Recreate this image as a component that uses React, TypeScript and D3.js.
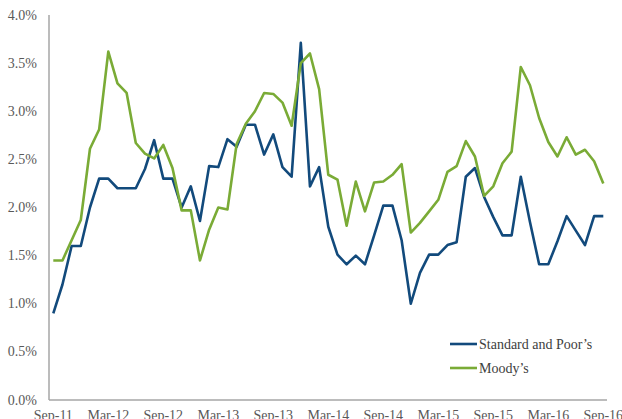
import React, { useEffect, useRef } from "react";
import * as d3 from "d3";

const W = 622;
const H = 419;

const yTicks = [0, 0.5, 1.0, 1.5, 2.0, 2.5, 3.0, 3.5, 4.0];
const xTickLabels = ["Sep-11", "Mar-12", "Sep-12", "Mar-13", "Sep-13", "Mar-14", "Sep-14", "Mar-15", "Sep-15", "Mar-16", "Sep-16"];

// Monthly, Sep-2011 .. Sep-2016 (61 months), default rate in %
const standardAndPoors = [
  0.9, 1.2, 1.6, 1.6, 2.0, 2.3, 2.3, 2.2, 2.2, 2.2, 2.4, 2.7, 2.3, 2.3, 2.0,
  2.22, 1.86, 2.43, 2.42, 2.71, 2.63, 2.86, 2.86, 2.55, 2.76, 2.42, 2.32, 3.71, 2.22, 2.42,
  1.8, 1.51, 1.41, 1.5, 1.41, 1.71, 2.02, 2.02, 1.66, 1.0, 1.32, 1.51, 1.51, 1.61, 1.64,
  2.32, 2.41, 2.11, 1.9, 1.71, 1.71, 2.32, 1.85, 1.41, 1.41, 1.65, 1.91, 1.76, 1.61, 1.91, 1.91,
];
const moodys = [
  1.45, 1.45, 1.66, 1.87, 2.61, 2.81, 3.62, 3.29, 3.19, 2.67, 2.56, 2.51, 2.65, 2.41, 1.97,
  1.97, 1.45, 1.77, 2.0, 1.98, 2.66, 2.87, 3.0, 3.19, 3.18, 3.09, 2.85, 3.5, 3.6, 3.23,
  2.34, 2.29, 1.81, 2.27, 1.96, 2.26, 2.27, 2.34, 2.45, 1.74, 1.84, 1.96, 2.08, 2.37, 2.43,
  2.69, 2.53, 2.12, 2.22, 2.46, 2.58, 3.46, 3.27, 2.93, 2.68, 2.53, 2.73, 2.55, 2.6, 2.48, 2.25,
];

const seriesNames = ["Standard and Poor\u2019s", "Moody\u2019s"];
const seriesColors = ["#124a7c", "#7aab36"];

export default function App() {
  const ref = useRef<SVGSVGElement>(null);

  useEffect(() => {
    const svg = d3.select(ref.current);
    svg.selectAll("*").remove();

    const x = d3.scaleLinear().domain([0, 60]).range([53.3, 603.3]);
    const y = d3.scaleLinear().domain([0, 4]).range([400, 15]);
    const font = "'Liberation Serif', 'Times New Roman', serif";
    const axisColor = "#a6a6a6";

    // axes lines
    svg.append("line").attr("x1", 49).attr("x2", 49).attr("y1", y(4)).attr("y2", y(0))
      .attr("stroke", axisColor).attr("stroke-width", 1.5);
    svg.append("line").attr("x1", 49).attr("x2", 607).attr("y1", y(0)).attr("y2", y(0))
      .attr("stroke", axisColor).attr("stroke-width", 1.5);

    // y tick labels
    svg.append("g").selectAll("text").data(yTicks).join("text")
      .attr("x", 37).attr("y", (d) => y(d) + 4.5)
      .attr("text-anchor", "end")
      .attr("font-family", font).attr("font-size", 14).attr("fill", "#595959")
      .text((d) => d.toFixed(1) + "%");

    // x tick labels
    svg.append("g").selectAll("text").data(xTickLabels).join("text")
      .attr("x", (_d, i) => x(i * 6)).attr("y", 420)
      .attr("text-anchor", "middle")
      .attr("font-family", font).attr("font-size", 14).attr("fill", "#595959")
      .text((d) => d);

    const line = d3.line<number>().x((_d, i) => x(i)).y((d) => y(d));
    [standardAndPoors, moodys].forEach((s, k) => {
      svg.append("path").datum(s).attr("d", line).attr("fill", "none")
        .attr("stroke", seriesColors[k]).attr("stroke-width", 2.6)
        .attr("stroke-linejoin", "round");
    });

    // legend
    const lg = svg.append("g");
    seriesNames.forEach((n, k) => {
      const ly = 344 + k * 24;
      lg.append("line").attr("x1", 450).attr("x2", 477).attr("y1", ly).attr("y2", ly)
        .attr("stroke", seriesColors[k]).attr("stroke-width", 2.6);
      lg.append("text").attr("x", 479).attr("y", ly + 4.5)
        .attr("font-family", font).attr("font-size", 14).attr("fill", "#404040")
        .text(n);
    });
  }, []);

  return (
    <svg ref={ref} width={W} height={H}
      style={{ position: "absolute", left: 0, top: 0, background: "#fff" }} />
  );
}
